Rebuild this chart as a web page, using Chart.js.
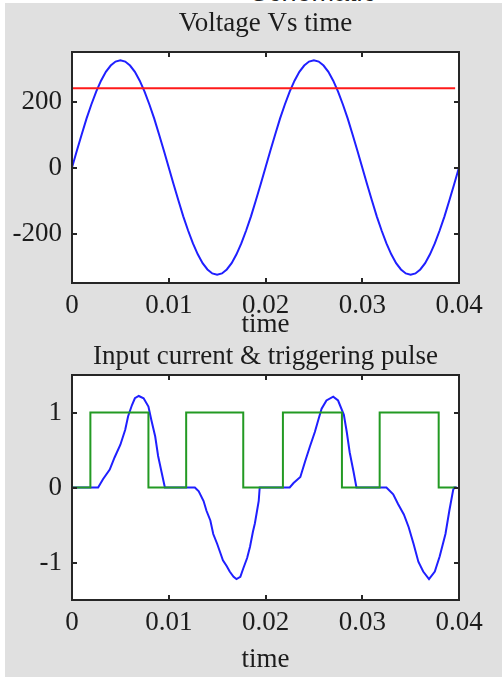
<!DOCTYPE html>
<html>
<head>
<meta charset="utf-8">
<title>Voltage and input current</title>
<script src="https://cdn.jsdelivr.net/npm/chart.js@4.4.1/dist/chart.umd.min.js"></script>
<style>
  body { margin: 0; background: #fff; width: 502px; height: 677px; overflow: hidden; position: relative; }
  #schematic { position: absolute; left: 250px; top: -21px; font: 27px 'Liberation Sans', Arial, sans-serif; line-height: 27px; color: #222; }
  #panel { position: absolute; left: 5px; top: 3px; right: 0; bottom: 0; background: #e0e0e0; }
  canvas { position: absolute; left: 0; }
  #voltage { top: 0; }
  #current { top: 340px; }
</style>
</head>
<body>
<div id="schematic">Schematic</div>
<div id="panel"></div>
<canvas id="voltage" width="502" height="340"></canvas>
<canvas id="current" width="502" height="337"></canvas>
<script>
// supply voltage samples (s, V)
const voltTime = [0, 0.0005, 0.001, 0.0015, 0.002, 0.0025, 0.003, 0.0035, 0.004, 0.0045,
    0.005, 0.0055, 0.006, 0.0065, 0.007, 0.0075, 0.008, 0.0085, 0.009, 0.0095,
    0.01, 0.0105, 0.011, 0.0115, 0.012, 0.0125, 0.013, 0.0135, 0.014, 0.0145,
    0.015, 0.0155, 0.016, 0.0165, 0.017, 0.0175, 0.018, 0.0185, 0.019, 0.0195,
    0.02, 0.0205, 0.021, 0.0215, 0.022, 0.0225, 0.023, 0.0235, 0.024, 0.0245,
    0.025, 0.0255, 0.026, 0.0265, 0.027, 0.0275, 0.028, 0.0285, 0.029, 0.0295,
    0.03, 0.0305, 0.031, 0.0315, 0.032, 0.0325, 0.033, 0.0335, 0.034, 0.0345,
    0.035, 0.0355, 0.036, 0.0365, 0.037, 0.0375, 0.038, 0.0385, 0.039, 0.0395,
    0.04];
const voltage = [0, 51, 100, 148, 191, 230, 263, 290, 309, 321,
    325, 321, 309, 290, 263, 230, 191, 148, 100, 51,
    0, -51, -100, -148, -191, -230, -263, -290, -309, -321,
    -325, -321, -309, -290, -263, -230, -191, -148, -100, -51,
    0, 51, 100, 148, 191, 230, 263, 290, 309, 321,
    325, 321, 309, 290, 263, 230, 191, 148, 100, 51,
    0, -51, -100, -148, -191, -230, -263, -290, -309, -321,
    -325, -321, -309, -290, -263, -230, -191, -148, -100, -51,
    0];

// horizontal reference level on the voltage plot
const refTime = [0, 0.0396];
const refLevel = [240, 240];

// input current (s, A)
const currTime = [0, 0.0027, 0.0032, 0.0039, 0.0044, 0.0050, 0.0055, 0.0058, 0.0062, 0.0065,
    0.0069, 0.0074, 0.0079, 0.0082, 0.0086, 0.0089, 0.0093, 0.0096,
    0.0127, 0.0131, 0.0136, 0.0139, 0.0143, 0.0146, 0.0150, 0.0153, 0.0156, 0.0160, 0.0163,
    0.0167, 0.0170, 0.0174, 0.0177, 0.0181, 0.0184, 0.0187, 0.0189, 0.0191, 0.0193, 0.0194,
    0.0225, 0.0229, 0.0236, 0.0241, 0.0246, 0.0251, 0.0255, 0.0258, 0.0263, 0.0270,
    0.0275, 0.0281, 0.0284, 0.0287, 0.0291, 0.0294,
    0.0325, 0.0332, 0.0337, 0.0343, 0.0348, 0.0353, 0.0358, 0.0363, 0.0369, 0.0375,
    0.0380, 0.0386, 0.0390, 0.0394, 0.0395, 0.0398];
const current = [0, 0, 0.11, 0.24, 0.40, 0.57, 0.77, 0.95, 1.10, 1.19,
    1.22, 1.19, 1.08, 0.90, 0.68, 0.42, 0.18, 0,
    0, -0.05, -0.18, -0.31, -0.44, -0.62, -0.75, -0.86, -0.97, -1.05, -1.12,
    -1.19, -1.22, -1.19, -1.08, -0.94, -0.79, -0.59, -0.48, -0.33, -0.18, 0,
    0, 0.06, 0.14, 0.35, 0.55, 0.74, 0.92, 1.05, 1.16, 1.21,
    1.16, 0.97, 0.74, 0.47, 0.21, 0,
    0, -0.09, -0.22, -0.36, -0.53, -0.75, -0.99, -1.12, -1.22, -1.12,
    -0.92, -0.62, -0.31, -0.03, 0, 0];

// triggering pulse: edge times and the level held after each edge
const pulseTime = [0, 0.0019, 0.0079, 0.0118, 0.0177, 0.0218, 0.0279, 0.0318, 0.0379, 0.0397];
const pulse = [0, 1, 0, 1, 0, 1, 0, 1, 0, 0];

const timeTicks = [0, 0.01, 0.02, 0.03, 0.04];
const timeLabels = ['0', '0.01', '0.02', '0.03', '0.04'];
const voltTicks = [-200, 0, 200];
const voltLabels = ['-200', '0', '200'];
const currTicks = [-1, 0, 1];
const currLabels = ['-1', '0', '1'];

const ink = '#1c1c1c';
const serif = { family: "'Liberation Serif', 'Times New Roman', serif", size: 27, lineHeight: 1 };

function pairs(xs, ys) {
    return xs.map((x, i) => ({ x, y: ys[i] }));
}

// white plot area, boxed frame with inward ticks on all four sides
const axesBox = {
    id: 'axesBox',
    beforeDraw(chart) {
        const { ctx, chartArea: a } = chart;
        ctx.save();
        ctx.fillStyle = '#fff';
        ctx.fillRect(a.left, a.top, a.right - a.left, a.bottom - a.top);
        ctx.restore();
    },
    afterDatasetsDraw(chart) {
        const { ctx, chartArea: a, scales: { x, y } } = chart;
        ctx.save();
        ctx.strokeStyle = '#262626';
        ctx.lineWidth = 2;
        ctx.strokeRect(a.left, a.top, a.right - a.left, a.bottom - a.top);
        ctx.beginPath();
        x.ticks.forEach(t => {
            const px = Math.round(x.getPixelForValue(t.value));
            ctx.moveTo(px, a.bottom); ctx.lineTo(px, a.bottom - 5);
            ctx.moveTo(px, a.top); ctx.lineTo(px, a.top + 5);
        });
        y.ticks.forEach(t => {
            const py = Math.round(y.getPixelForValue(t.value));
            ctx.moveTo(a.left, py); ctx.lineTo(a.left + 5, py);
            ctx.moveTo(a.right, py); ctx.lineTo(a.right - 5, py);
        });
        ctx.stroke();
        ctx.restore();
    }
};

// title is not full width, so it centres over the plot box
function buildChart(id, cfg) {
    return new Chart(document.getElementById(id), {
        type: 'line',
        data: { datasets: cfg.datasets },
        options: {
            responsive: false,
            animation: false,
            events: [],
            layout: { padding: { left: 0, right: 43, top: 0, bottom: 0 } },
            elements: { point: { radius: 0 }, line: { tension: 0 } },
            plugins: {
                legend: { display: false },
                tooltip: { enabled: false },
                title: {
                    display: true, fullSize: false, text: cfg.title, color: ink,
                    font: { ...serif, weight: 'normal' }, padding: cfg.titlePad
                }
            },
            scales: {
                x: {
                    type: 'linear', min: 0, max: 0.04,
                    grid: { display: false, drawTicks: false },
                    border: { display: false },
                    afterBuildTicks: s => { s.ticks = timeTicks.map(v => ({ value: v })); },
                    afterFit: s => { s.height = cfg.xHeight; },
                    ticks: { padding: 9, color: ink, font: serif, maxRotation: 0, autoSkip: false,
                        callback: (v, i) => timeLabels[i] },
                    title: { display: true, text: 'time', color: ink, font: serif,
                        padding: { top: 0, bottom: cfg.xTitleBottom } }
                },
                y: {
                    type: 'linear', min: cfg.yMin, max: cfg.yMax,
                    grid: { display: false, drawTicks: false },
                    border: { display: false },
                    afterBuildTicks: s => { s.ticks = cfg.yTicks.map(v => ({ value: v })); },
                    afterFit: s => { s.width = 72; },
                    ticks: { padding: 10, color: ink, font: serif, autoSkip: false,
                        callback: (v, i) => cfg.yLabels[i] }
                }
            }
        },
        plugins: [axesBox]
    });
}

buildChart('voltage', {
    title: 'Voltage Vs time',
    titlePad: { top: 10.6, bottom: 14.4 },
    xHeight: 57,
    xTitleBottom: 1.2,
    yMin: -350, yMax: 350,
    yTicks: voltTicks, yLabels: voltLabels,
    datasets: [
        { data: pairs(refTime, refLevel), borderColor: '#ff1a1a', borderWidth: 2 },
        { data: pairs(voltTime, voltage), borderColor: '#1f1fff', borderWidth: 2 }
    ]
});

buildChart('current', {
    title: 'Input current & triggering pulse',
    titlePad: { top: 3.3, bottom: 4.7 },
    xHeight: 77,
    xTitleBottom: 3.5,
    yMin: -1.5, yMax: 1.5,
    yTicks: currTicks, yLabels: currLabels,
    datasets: [
        { data: pairs(pulseTime, pulse), borderColor: '#239a23', borderWidth: 2, stepped: 'before' },
        { data: pairs(currTime, current), borderColor: '#1f1fff', borderWidth: 2 }
    ]
});
</script>
</body>
</html>
